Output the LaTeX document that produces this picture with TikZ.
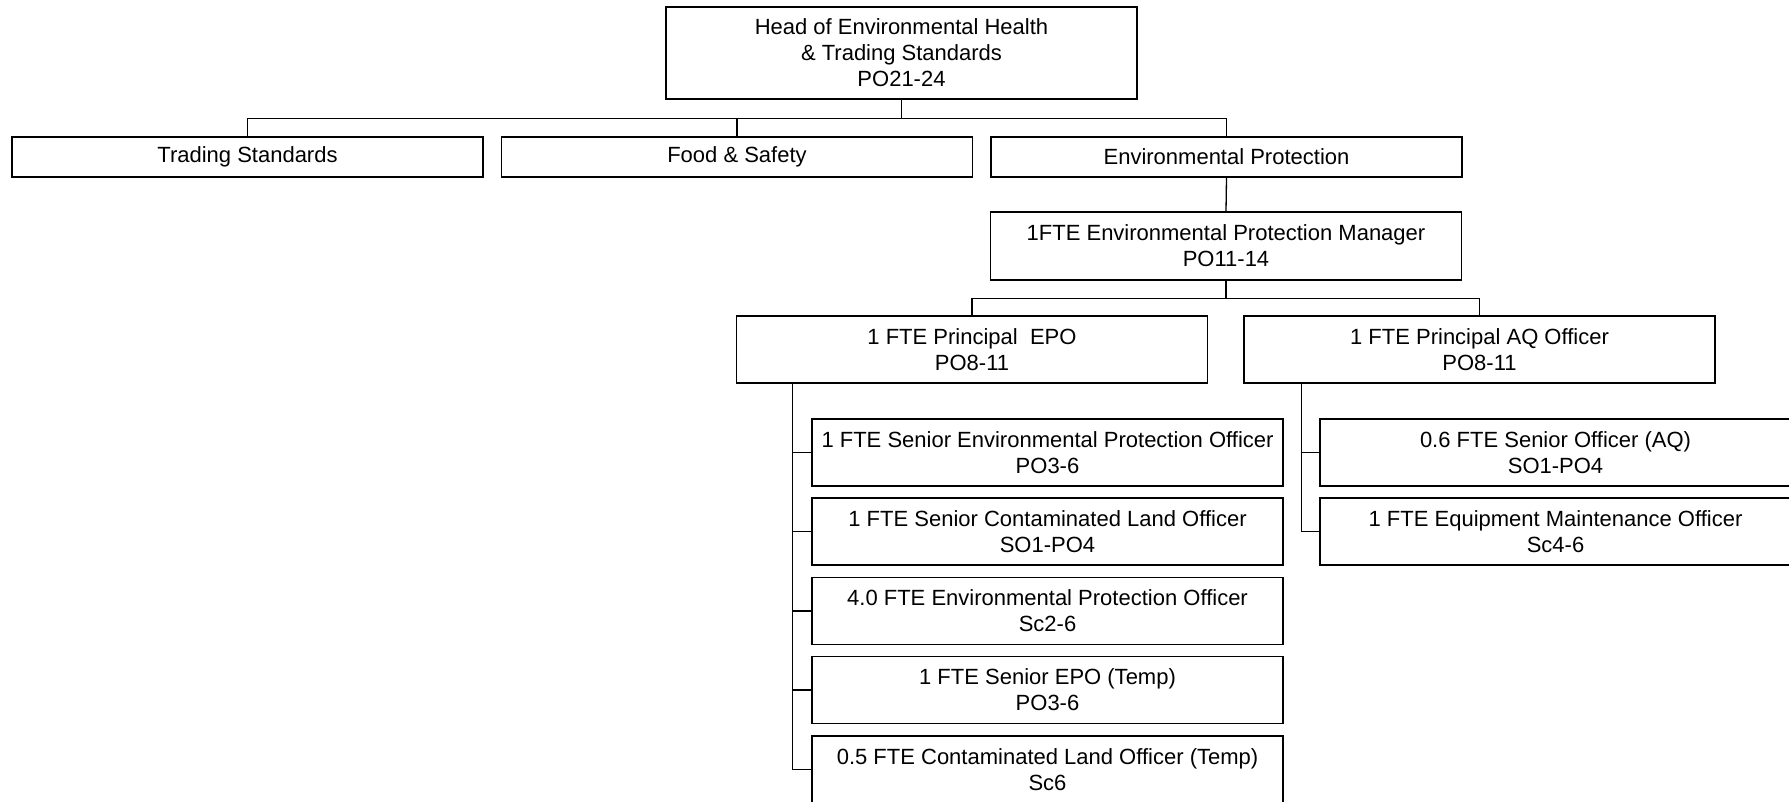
\documentclass[tikz,border=0pt]{standalone}
\usepackage{fontspec}
\setmainfont{Liberation Sans}

\tikzset{
  post/.style={draw=black, line width=1.6pt, fill=white, inner sep=0pt,
    minimum width=471pt, minimum height=67pt, align=center,
    font=\fontsize{22}{26}\selectfont},
  link/.style={draw=black, line width=1.3pt},
}

\begin{document}
\begin{tikzpicture}[x=1pt,y=-1pt]
\useasboundingbox[fill=white] (0,0) rectangle (1789,802);
% Drawing boxes
% Level 0: head of service
\node[post, minimum height=92pt] (head) at (901.5,53) {Head of Environmental Health\\ \& Trading Standards\\ PO21-24};
% Level 1: sections
\node[post, minimum height=40pt] (trading) at (247.5,157) {Trading Standards};
\node[post, minimum height=40pt] (food) at (737,157) {Food \& Safety};
\node[post, minimum height=40pt] (envprot) at (1226.5,157) {Environmental Protection};
% Level 2: manager
\node[post, minimum height=68pt] (manager) at (1226,246) {1FTE Environmental Protection Manager\\ PO11-14};
% Level 3: principals
\node[post] (prinepo) at (972,349.5) {1 FTE Principal\ \ EPO\\ PO8-11};
\node[post] (prinaq) at (1479.5,349.5) {1 FTE Principal AQ Officer\\ PO8-11};
% Level 4: EPO team
\node[post] (senepo) at (1047.5,452.5) {1 FTE Senior Environmental Protection Officer\\ PO3-6};
\node[post] (senland) at (1047.5,531.5) {1 FTE Senior Contaminated Land Officer\\ SO1-PO4};
\node[post] (epo) at (1047.5,611) {4.0 FTE Environmental Protection Officer\\ Sc2-6};
\node[post] (tempepo) at (1047.5,690) {1 FTE Senior EPO (Temp)\\ PO3-6};
\node[post] (templand) at (1047.5,769.5) {0.5 FTE Contaminated Land Officer (Temp)\\ Sc6};
% Level 4: AQ team
\node[post] (senaq) at (1555.5,452.5) {0.6 FTE Senior Officer (AQ)\\ SO1-PO4};
\node[post] (equip) at (1555.5,531.5) {1 FTE Equipment Maintenance Officer\\ Sc4-6};
% Done with boxes; drawing links
\foreach \s in {trading,food,envprot}
  \draw[link] (head.south) -- ++(0,18.5) -| (\s.north);
\draw[link] (envprot.south) -- (manager.north);
\foreach \s in {prinepo,prinaq}
  \draw[link] (manager.south) -- ++(0,17.5) -| (\s.north);
\foreach \s in {senepo,senland,epo,tempepo,templand}
  \draw[link] ([xshift=57pt]prinepo.south west) |- (\s.west);
\foreach \s in {senaq,equip}
  \draw[link] ([xshift=58pt]prinaq.south west) |- (\s.west);
% Done with links
\end{tikzpicture}
\end{document}
